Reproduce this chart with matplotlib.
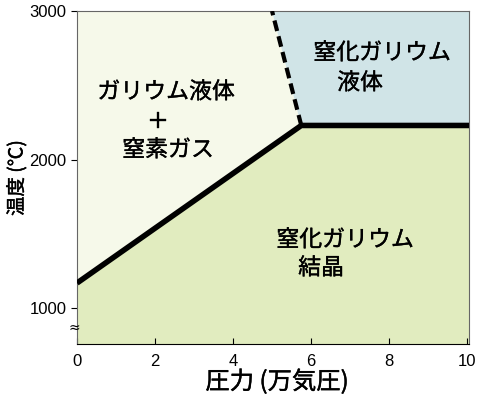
import matplotlib
matplotlib.use("Agg")
import matplotlib.pyplot as plt
import matplotlib.patheffects as pe

plt.rcParams['font.family'] = ['Noto Sans CJK JP', 'DejaVu Sans']

# Phase boundary data (pressure in 10^4 atm, temperature in C)
solid_line_x = [0.0, 5.75, 10.2]
solid_line_y = [1170, 2230, 2230]
dashed_line_x = [5.75, 5.0]
dashed_line_y = [2230, 3000]
xticks = [0, 2, 4, 6, 8, 10]
yticks = [1000, 2000, 3000]
xlim = (0, 10.05)
ylim = (760, 3000)

c_pale = '#f6f9ea'
c_green = '#e1ecbf'
c_blue = '#d0e4e7'

fig = plt.figure(figsize=(4.90, 3.98), dpi=100)
ax = fig.add_axes([77/490, 1-344/398, (469-77)/490, (344-11)/398])
ax.set_xlim(*xlim)
ax.set_ylim(*ylim)

x0, x1 = xlim
y0, y1 = ylim
# regions
ax.fill([x0, x0, dashed_line_x[1], solid_line_x[1]],
        [solid_line_y[0], y1, y1, solid_line_y[1]], color=c_pale, lw=0, zorder=0)
ax.fill([x0, solid_line_x[0], solid_line_x[1], x1, x1, x0],
        [y0, solid_line_y[0], solid_line_y[1], solid_line_y[2], y0, y0], color=c_green, lw=0, zorder=0)
ax.fill([dashed_line_x[1], x1, x1, solid_line_x[1]],
        [y1, y1, solid_line_y[1], solid_line_y[1]], color=c_blue, lw=0, zorder=0)

ax.plot(solid_line_x, solid_line_y, color='black', lw=4, solid_capstyle='butt', solid_joinstyle='miter', zorder=3)
ax.plot(dashed_line_x, dashed_line_y, color='black', lw=3, ls=(0, (2.6, 1.3)), zorder=3)

ax.set_xticks(xticks)
ax.set_yticks(yticks)
ax.tick_params(axis='x', direction='in', length=4, labelsize=12, pad=7)
ax.tick_params(axis='y', direction='out', length=4, labelsize=12)
for lab in ax.get_xticklabels() + ax.get_yticklabels():
    lab.set_family(['Liberation Sans', 'DejaVu Sans'])
for s in ['top', 'right', 'left']:
    ax.spines[s].set_color('#666666')
ax.spines['bottom'].set_color('black')

bold = [pe.withStroke(linewidth=0.3, foreground='black')]
ax.set_xlabel('圧力 (万気圧)', fontsize=17.5, path_effects=bold, va='center', ha='center')
ax.xaxis.set_label_coords((277-77)/392, (344-382)/333)
ax.set_ylabel('温度 (℃)', fontsize=14, path_effects=bold, va='center', ha='center')
ax.yaxis.set_label_coords((17-77)/392, (344-178)/333)

fs = 16.5
for txt, (x, y) in [('ガリウム液体', (166, 92)), ('＋', (158, 122)), ('窒素ガス', (168, 150)),
                    ('窒化ガリウム', (382, 53)), ('液体', (360, 83)),
                    ('窒化ガリウム', (345, 240)), ('結晶', (321, 268))]:
    fig.text(x/490, 1-y/398, txt, fontsize=fs, ha='center', va='center',
             path_effects=[pe.withStroke(linewidth=0.25, foreground='black')])

fig.text(74/490, 1-328/398, '≈', fontsize=10, ha='center', va='center', family=['DejaVu Sans'])

fig.savefig('out.png', dpi=100)
